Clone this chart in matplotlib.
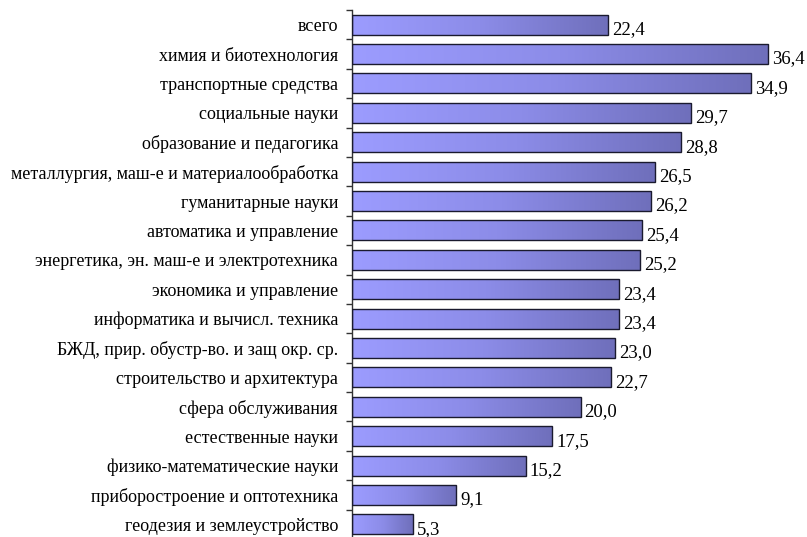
import matplotlib
matplotlib.use("Agg")
import matplotlib.pyplot as plt
import numpy as np
from matplotlib.colors import LinearSegmentedColormap

categories = [
    "всего",
    "химия и биотехнология",
    "транспортные средства",
    "социальные науки",
    "образование и педагогика",
    "металлургия, маш-е и материалообработка",
    "гуманитарные науки",
    "автоматика и управление",
    "энергетика, эн. маш-е и электротехника",
    "экономика и управление",
    "информатика и вычисл. техника",
    "БЖД, прир. обустр-во. и защ окр. ср.",
    "строительство и архитектура",
    "сфера обслуживания",
    "естественные науки",
    "физико-математические науки",
    "приборостроение и оптотехника",
    "геодезия и землеустройство",
]
values = [22.4, 36.4, 34.9, 29.7, 28.8, 26.5, 26.2, 25.4, 25.2, 23.4, 23.4,
          23.0, 22.7, 20.0, 17.5, 15.2, 9.1, 5.3]
value_labels = [f"{v:.1f}".replace(".", ",") for v in values]

W, H = 807, 537
fig = plt.figure(figsize=(W / 100, H / 100), dpi=100)
ax = fig.add_axes([352 / W, (537 - 539) / H, (807 - 352) / W, 529 / H])

n = len(categories)
ys = np.arange(n)
bar_h = 0.68
cmap = LinearSegmentedColormap.from_list("g", ["#9c9cff", "#8c8ce8", "#6f6fbb"])
grad = np.linspace(0, 1, 256).reshape(1, -1)

for y, v, lab in zip(ys, values, value_labels):
    ax.imshow(grad, cmap=cmap, aspect="auto",
              extent=(0, v, y + bar_h / 2, y - bar_h / 2), zorder=2,
              interpolation="bilinear")
    ax.barh(y, v, height=bar_h, color="none", edgecolor="#1a1a2e",
            linewidth=1.0, zorder=3)
    ax.text(v + 0.35, y + 0.17, lab, va="center", ha="left",
            fontsize=13.5, family="Liberation Serif", color="black")

ax.set_xlim(0, 455 / 11.43)
ax.set_ylim(n - 0.5, -0.5)
ax.set_yticks(ys)
ax.set_yticklabels(categories, family="Liberation Serif", fontsize=13)
ax.set_yticks(np.arange(n + 1) - 0.5, minor=True)
ax.tick_params(axis="y", which="major", length=0, pad=10)
ax.tick_params(axis="y", which="minor", length=4, width=1, direction="out",
               color="#333333")
ax.set_xticks([])
for s in ["top", "right", "bottom"]:
    ax.spines[s].set_visible(False)
ax.spines["left"].set_linewidth(1)
ax.spines["left"].set_color("#333333")

fig.savefig("out.png", dpi=100)
